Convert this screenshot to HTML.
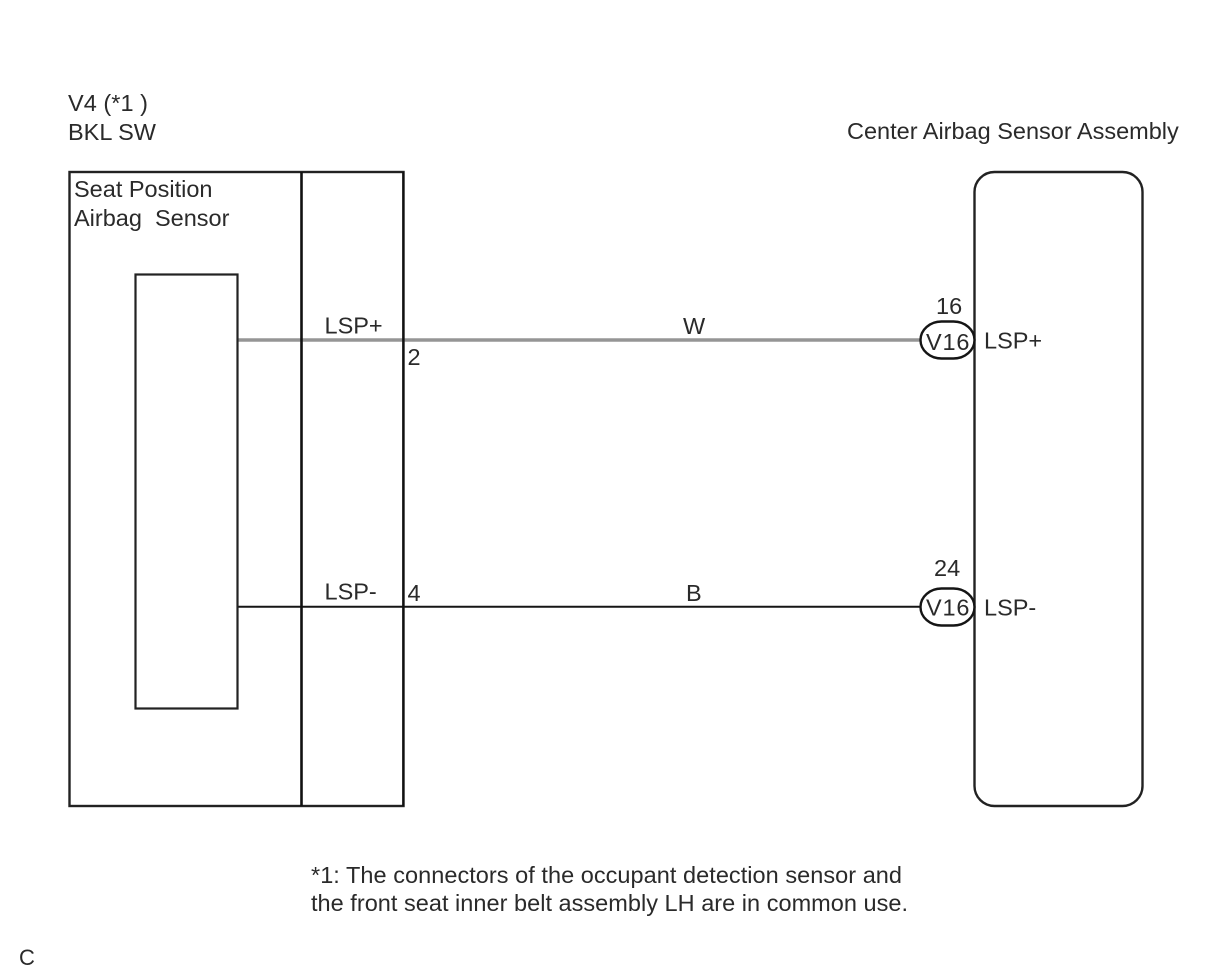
<!DOCTYPE html>
<html><head><meta charset="utf-8"><style>
html,body{margin:0;padding:0;background:#fff;width:1212px;height:974px;overflow:hidden}
svg{display:block;filter:blur(0.35px)}
text{font-family:"Liberation Sans",sans-serif;font-size:23.5px;fill:#2a2a2a}
</style></head><body>
<svg width="1212" height="974" viewBox="0 0 1212 974" xmlns="http://www.w3.org/2000/svg">
<line x1="237" y1="340" x2="921" y2="340" stroke="#959595" stroke-width="3.6"/>
<line x1="237" y1="606.8" x2="921" y2="606.8" stroke="#151515" stroke-width="2"/>
<rect x="69.5" y="172" width="334" height="634" fill="none" stroke="#222" stroke-width="2.4"/>
<line x1="301.5" y1="172" x2="301.5" y2="806" stroke="#111" stroke-width="2.6"/>
<line x1="403.3" y1="172" x2="403.3" y2="806" stroke="#111" stroke-width="2.2"/>
<rect x="135.5" y="274.5" width="102" height="434" fill="none" stroke="#222" stroke-width="2.2"/>
<rect x="974.5" y="172" width="168" height="634" rx="20" ry="20" fill="none" stroke="#222" stroke-width="2.4"/>
<rect x="920.5" y="321.5" width="54" height="37" rx="21" ry="18.5" fill="#fff" stroke="#151515" stroke-width="2.4"/>
<rect x="920.5" y="588.5" width="54" height="37" rx="21" ry="18.5" fill="#fff" stroke="#151515" stroke-width="2.4"/>
<text x="68" y="111" textLength="80" lengthAdjust="spacing" xml:space="preserve">V4 (*1 )</text>
<text x="68" y="140">BKL SW</text>
<text x="847" y="139">Center Airbag Sensor Assembly</text>
<text x="74" y="197">Seat Position</text>
<text x="74" y="226" xml:space="preserve">Airbag  Sensor</text>
<text x="324.5" y="333.5">LSP+</text>
<text x="407.5" y="365">2</text>
<text x="683" y="334">W</text>
<text x="936" y="314">16</text>
<text x="926" y="350" textLength="43.5">V16</text>
<text x="984" y="348.5">LSP+</text>
<text x="324.5" y="599.5">LSP-</text>
<text x="407.5" y="601">4</text>
<text x="686" y="601">B</text>
<text x="934" y="576">24</text>
<text x="926" y="615.5" textLength="43.5">V16</text>
<text x="984" y="615.5">LSP-</text>
<text x="311" y="883" textLength="591">*1: The connectors of the occupant detection sensor and</text>
<text x="311" y="911" textLength="597">the front seat inner belt assembly LH are in common use.</text>
<text x="19" y="965" style="font-size:22px">C</text>
</svg>
</body></html>
